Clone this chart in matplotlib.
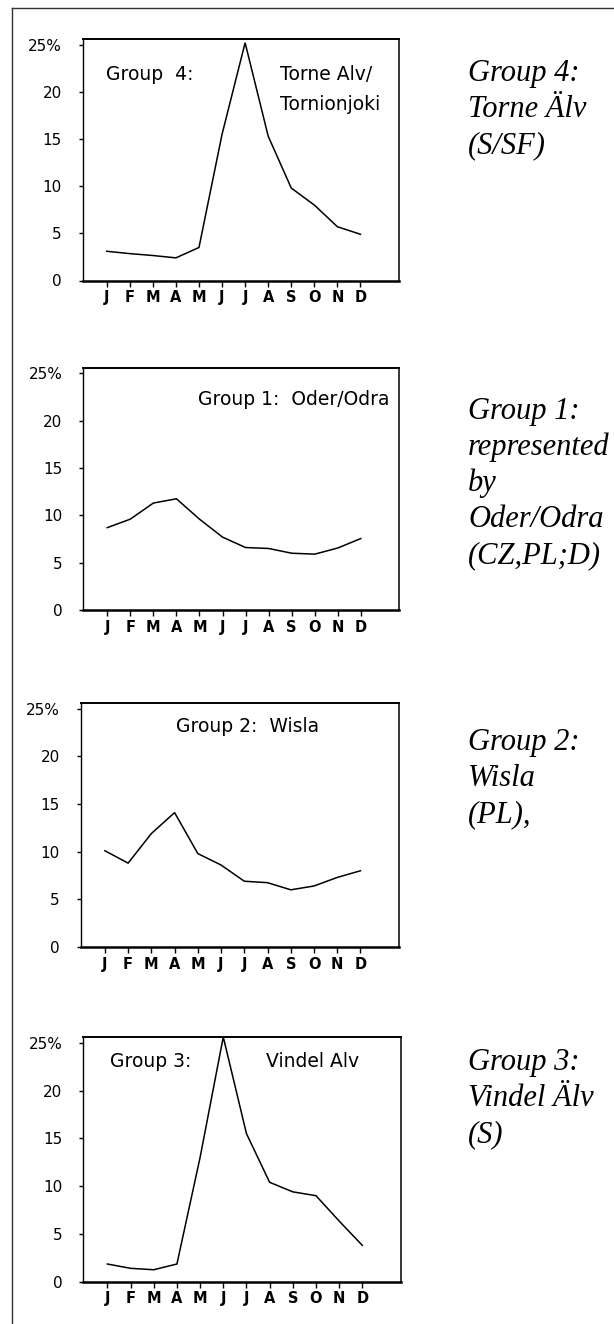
import numpy as np
import matplotlib
matplotlib.use("Agg")
import matplotlib.pyplot as plt
from matplotlib.lines import Line2D

# monthly share of annual runoff (%), J..D
months = ["J", "F", "M", "A", "M", "J", "J", "A", "S", "O", "N", "D"]
torne = [3.1, 2.85, 2.65, 2.4, 3.5, 15.5, 25.2, 15.3, 9.8, 8.0, 5.7, 4.9]
oder = [8.7, 9.6, 11.3, 11.75, 9.6, 7.7, 6.6, 6.5, 6.0, 5.9, 6.55, 7.55]
wisla = [10.1, 8.8, 11.9, 14.1, 9.8, 8.6, 6.9, 6.75, 6.0, 6.4, 7.3, 8.0]
vindel = [1.85, 1.4, 1.25, 1.85, 13.0, 25.6, 15.5, 10.4, 9.4, 9.0, 6.35, 3.8]

y_ticks = [0, 5, 10, 15, 20, 25]
y_labels = ["0", "5", "10", "15", "20", "25%"]

side_texts = [
    ["Group 4:", "Torne Älv", "(S/SF)"],
    ["Group 1:", "represented", "by", "Oder/Odra", "(CZ,PL;D)"],
    ["Group 2:", "Wisla", "(PL),"],
    ["Group 3:", "Vindel Älv", "(S)"],
]

W, H = 614, 1324
fig = plt.figure(figsize=(W / 100, H / 100), dpi=100)
fig.patch.set_facecolor("white")

# page frame: only the top and left edges show
fx, fy = 12 / W, 1 - 8 / H
fig.lines.append(Line2D([fx, 1.0], [fy, fy], transform=fig.transFigure,
                        color="#333333", linewidth=1.0))
fig.lines.append(Line2D([fx, fx], [0.0, fy], transform=fig.transFigure,
                        color="#333333", linewidth=1.0))

# axes boxes in pixels: left, top, right, bottom
boxes = [(82.7, 39, 399, 280.5), (83.3, 367.7, 399.3, 610),
         (80.7, 703, 399.3, 947), (83.3, 1037, 401, 1281.7)]
series = [torne, oder, wisla, vindel]
x = np.arange(12)

axes = []
for (l, t, r, b), vals in zip(boxes, series):
    ax = fig.add_axes([l / W, 1 - b / H, (r - l) / W, (b - t) / H])
    ax.plot(x, vals, color="black", linewidth=1.1, solid_joinstyle="miter")
    ax.set_xlim(-1.04, 12.67)
    ax.set_ylim(0, 25.6)
    ax.set_xticks(x)
    ax.set_xticklabels(months, fontsize=10.5, fontweight="bold")
    ax.set_yticks(y_ticks)
    ax.set_yticklabels(y_labels, fontsize=11)
    ax.tick_params(axis="x", direction="out", length=4, width=1, pad=3)
    ax.tick_params(axis="y", direction="out", length=3, width=1, pad=12)
    ax.spines["top"].set_linewidth(1.4)
    ax.spines["left"].set_linewidth(1.0)
    ax.spines["right"].set_linewidth(1.1)
    ax.spines["bottom"].set_linewidth(1.8)
    axes.append(ax)

inner = dict(fontsize=13.5, va="baseline", color="black")
axes[0].text(0.075, 0.83, "Group  4:", transform=axes[0].transAxes, **inner)
axes[0].text(0.624, 0.83, "Torne Alv/", transform=axes[0].transAxes, **inner)
axes[0].text(0.624, 0.707, "Tornionjoki", transform=axes[0].transAxes, **inner)
axes[1].text(0.969, 0.847, "Group 1:  Oder/Odra", transform=axes[1].transAxes, ha="right", **inner)
axes[2].text(0.30, 0.882, "Group 2:  Wisla", transform=axes[2].transAxes, **inner)
axes[3].text(0.083, 0.878, "Group 3:", transform=axes[3].transAxes, **inner)
axes[3].text(0.575, 0.878, "Vindel Alv", transform=axes[3].transAxes, **inner)

# italic captions to the right of each panel
first_line = [71, 409, 740, 1060]
for lines, y0 in zip(side_texts, first_line):
    for i, line in enumerate(lines):
        fig.text(468 / W, 1 - (y0 + i * 36 + 10) / H, line, fontsize=22,
                 family="Liberation Serif", style="italic", va="baseline")

fig.savefig("out.png", dpi=100)
